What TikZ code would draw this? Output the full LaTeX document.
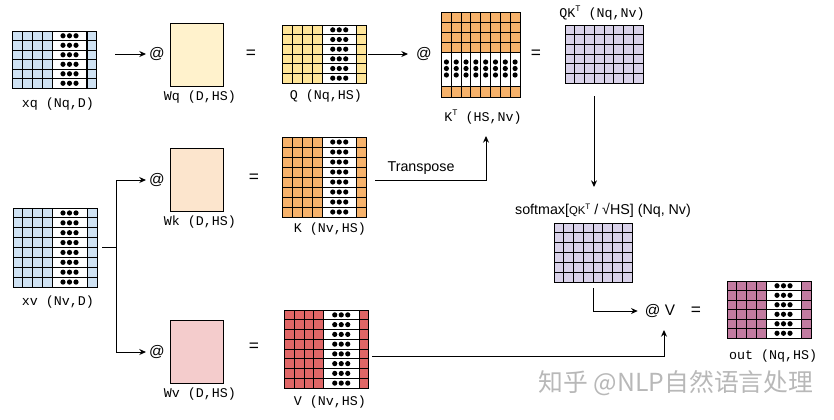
\documentclass[tikz,border=0pt]{standalone}
\usepackage{fontspec}
\setmainfont{Liberation Sans}
\setmonofont{Liberation Mono}
\newfontfamily\cjkwm{Noto Sans CJK SC}
\usetikzlibrary{arrows.meta,calc}
\definecolor{cblue}{HTML}{CFE2F3}
\definecolor{cyel}{HTML}{FFE599}
\definecolor{ccream}{HTML}{FFF2CC}
\definecolor{corange}{HTML}{F6B26B}
\definecolor{cpeach}{HTML}{FCE5CD}
\definecolor{cpink}{HTML}{F4CCCC}
\definecolor{cred}{HTML}{E06666}
\definecolor{cpurple}{HTML}{D9D2E9}
\definecolor{cplum}{HTML}{C27BA0}
\tikzset{
  x=0.75pt,y=-0.75pt,
  gridline/.style={draw=black,line width=0.72pt},
  heavy/.style={draw=black,line width=0.75pt},
  matbox/.style={draw=black,line width=0.75pt,inner sep=0pt,outer sep=0pt},
  weight/.style={draw=black,line width=0.7pt,inner sep=0pt,outer sep=0pt,minimum width=39.75pt,minimum height=47.25pt},
  dotmark/.style={fill=black,draw=none},
  conn/.style={draw=black,line width=0.75pt},
  arr/.style={conn,-{Stealth[length=5pt,width=4.5pt]}},
  mono/.style={font=\ttfamily\fontsize{10pt}{11pt}\selectfont,inner sep=0pt},
  sans/.style={font=\fontsize{10.7pt}{12pt}\selectfont,inner sep=0pt},
  opsym/.style={font=\fontsize{11.5pt}{13pt}\selectfont,inner sep=0pt},
  eqsym/.style={font=\fontsize{13pt}{14pt}\selectfont,inner sep=0pt},
}
% plain rectangle node of given px box
\newcommand{\mybox}[6]{% name x0 y0 x1 y1 colour
  \pgfmathsetmacro{\bw}{(#4-#2)*0.75}\pgfmathsetmacro{\bh}{(#5-#3)*0.75}
  \pgfmathsetmacro{\bcx}{(#2+#4)/2}\pgfmathsetmacro{\bcy}{(#3+#5)/2}
  \node[matbox,fill=#6,minimum width=\bw pt,minimum height=\bh pt] (#1) at (\bcx,\bcy) {};
}
% matrix with one white block of row vectors
\newcommand{\rowmat}[9]{% name x0 y0 x1 y1 rows colour wx0 wx1
  \mybox{#1}{#2}{#3}{#4}{#5}{#7}
  \fill[white] (#8,#3) rectangle (#9,#5);
  \pgfmathsetmacro{\cw}{(#8-#2)/4}
  \foreach \i in {1,2,3}{\draw[gridline] ({#2+\i*\cw},#3) -- ({#2+\i*\cw},#5);}
  \foreach \i in {1,...,#6}{
    \pgfmathsetmacro{\ry}{#3+(\i-1)*(#5-#3)/#6}
    \pgfmathsetmacro{\rm}{\ry+(#5-#3)/#6/2}
    \pgfmathsetmacro{\mx}{(#8+#9)/2}
    \ifnum\i>1 \draw[gridline] (#2,\ry) -- (#4,\ry);\fi
    \foreach \d in {-6.5,0,6.5}{\fill[dotmark] (\mx+\d,\rm) circle[radius=2.6];}
  }
  \draw[gridline] (#8,#3) -- (#8,#5);
  \draw[heavy] (#9,#3) -- (#9,#5);
  \draw[matbox] (#2,#3) rectangle (#4,#5);
}
% plain cols x rows grid
\newcommand{\fullgrid}[7]{% name x0 y0 x1 y1 colour rows
  \mybox{#1}{#2}{#3}{#4}{#5}{#6}
  \foreach \i in {1,...,7}{\draw[gridline] ({#2+\i*(#4-#2)/8},#3) -- ({#2+\i*(#4-#2)/8},#5);}
  \pgfmathtruncatemacro{\rr}{#7-1}
  \foreach \i in {1,...,\rr}{\draw[gridline] (#2,{#3+\i*(#5-#3)/#7}) -- (#4,{#3+\i*(#5-#3)/#7});}
}
\begin{document}
\begin{tikzpicture}
\useasboundingbox (0,0) rectangle (834,419);
% matrices
\rowmat{xq}{12.5}{31}{96.5}{88}{6}{cblue}{52}{87}
\draw[draw=black,line width=1.4pt] (87,31) -- (87,88);
\rowmat{xv}{13}{208}{97}{287}{8}{cblue}{52}{87}
\rowmat{Q}{282.5}{25}{366.5}{83}{6}{cyel}{322}{356.5}
\rowmat{K}{282.5}{137}{366.5}{217}{8}{corange}{322}{356.5}
\rowmat{V}{284.5}{310}{368.5}{388}{8}{cred}{323.5}{359}
\rowmat{out}{727}{281}{811}{338}{6}{cplum}{766}{801}
% K transpose
\mybox{KT}{441.5}{12.5}{520}{97}{corange}
\fill[white] (441.5,52) rectangle (520,86);
\foreach \i in {1,...,7}{
  \draw[gridline] ({441.5+\i*78.5/8},12.5) -- ({441.5+\i*78.5/8},97);}
\foreach \y in {22.5,32.5,42.5}{\draw[gridline] (441.5,\y) -- (520,\y);}
\draw[gridline] (441.5,52) -- (520,52);
\draw[heavy] (441.5,86) -- (520,86);
\foreach \i in {0,...,7}{
  \foreach \y in {62,68.5,75}{\fill[dotmark] ({441.5+(\i+0.5)*78.5/8},\y) circle[radius=2.6];}}
\draw[matbox] (441.5,12.5) rectangle (520,97);
% purple grids
\fullgrid{QKT}{565}{25}{643}{83}{cpurple}{6}
\fullgrid{SM}{554}{223}{632}{282}{cpurple}{6}
% weights
\node[weight,fill=ccream] (Wq) at (196.5,54.5) {};
\node[weight,fill=cpeach] (Wk) at (196.5,179.5) {};
\node[weight,fill=cpink] (Wv) at (196.5,351.5) {};
% operators
\node[opsym] (at1) at (157,54) {@};
\node[opsym] (at2) at (157,180) {@};
\node[opsym] (at3) at (157,352) {@};
\node[opsym] (at4) at (424,54) {@};
\node[opsym] (at5) at (660,311) {@ V};
\node[eqsym] (eq1) at (251,54) {=};
\node[eqsym] (eq2) at (254,178) {=};
\node[eqsym] (eq3) at (254,347) {=};
\node[eqsym] (eq4) at (536,54) {=};
\node[eqsym] (eq5) at (696,311) {=};
% labels
\node[mono] (lxq) at (58,104) {xq (Nq,D)};
\node[mono] (lWq) at (200,97) {Wq (D,HS)};
\node[mono] (lQ) at (326,96) {Q (Nq,HS)};
\node[mono] (lKT) at (483,117) {K\raisebox{0.45em}{\fontsize{6.5pt}{7pt}\selectfont T} (HS,Nv)};
\node[mono] (lQK) at (602,13) {QK\raisebox{0.45em}{\fontsize{6.5pt}{7pt}\selectfont T} (Nq,Nv)};
\node[mono] (lWk) at (200,222) {Wk (D,HS)};
\node[mono] (lK) at (330,229) {K (Nv,HS)};
\node[mono] (lxv) at (58,302) {xv (Nv,D)};
\node[mono] (lWv) at (200,394) {Wv (D,HS)};
\node[mono] (lV) at (330,402) {V (Nv,HS)};
\node[mono] (lout) at (773,356) {out (Nq,HS)};
\node[sans] (lSM) at (603,210) {softmax[{\fontsize{8.5pt}{10pt}\selectfont QK\raisebox{0.4em}{\fontsize{6pt}{7pt}\selectfont T}} / √HS] (Nq, Nv)};
\node[sans] (lT) at (421,168) {Transpose};
\node[text=black!28,font=\cjkwm\fontsize{18.6pt}{20pt}\selectfont,inner sep=0pt] (wm) at (676,383) {知乎 @NLP自然语言处理};
% connector junctions
\coordinate (cxq) at (115,54);
\coordinate (cxqe) at (146,54);
\coordinate (cQ) at (368,54);
\coordinate (cQe) at (408,54);
\coordinate (ctr) at (375,180);
\coordinate (ctrc) at (486,180);
\coordinate (cKT) at (486,136);
\coordinate (cQKa) at (594,96);
\coordinate (cQKb) at (594,187);
\coordinate (cSMa) at (593,288);
\coordinate (cSMb) at (593,311);
\coordinate (cVa) at (372,356);
\coordinate (cVb) at (664,356);
\coordinate (cVc) at (664,330);
\coordinate (cxv) at (102,247);
\coordinate (cj) at (116,247);
% connectors
\draw[arr] (cxq) -- (cxqe);
\draw[arr] (cQ) -- (cQe);
\draw[arr] (ctr) -- (ctrc) -- (cKT);
\draw[arr] (cQKa) -- (cQKb);
\draw[arr] (cSMa) -- (cSMb) -- ($(at5.west)+(-7,0)$);
\draw[arr] (cVa) -- (cVb) -- (cVc);
\draw[conn] (cxv) -- (cj);
\draw[arr] (cj) |- ($(at2.west)+(-3,0)$);
\draw[arr] (cj) |- ($(at3.west)+(-3,0)$);
\end{tikzpicture}
\end{document}
